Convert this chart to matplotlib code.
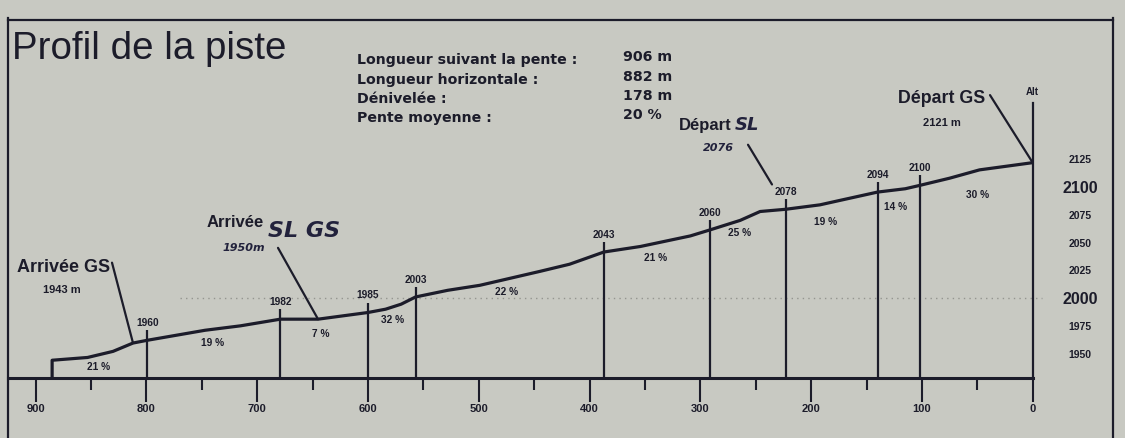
import numpy as np
import matplotlib
matplotlib.use('Agg')
import matplotlib.pyplot as plt
from matplotlib.ticker import MultipleLocator

# ---------------- data ----------------
# distance from the start (m, 0 = Départ GS on the right) and altitude (m)
dist = [885, 853, 830, 812, 799, 747, 715, 679, 645, 600, 584, 570, 557, 528,
        499, 445, 418, 387, 354, 309, 291, 264, 246, 223, 192, 174, 140, 115,
        102, 75, 48, 0]
alt = [1944, 1946.5, 1952, 1959.5, 1962, 1971, 1975, 1981, 1981, 1987, 1990,
       1994.5, 2001, 2007, 2011.5, 2024, 2030.5, 2041.5, 2046.5, 2056, 2061.5,
       2070, 2078, 2080, 2084, 2088, 2095.5, 2098.5, 2101.5, 2108, 2115.5, 2122]
base_alt = 1928

marker_dist = [799, 679, 600, 557, 387, 291, 223, 140, 102]
marker_label = ['1960', '1982', '1985', '2003', '2043', '2060', '2078', '2094', '2100']

slope_label = ['21 %', '19 %', '7 %', '32 %', '22 %', '21 %', '25 %', '19 %', '14 %', '30 %']

xtick_values = [900, 800, 700, 600, 500, 400, 300, 200, 100, 0]
ytick_values = [1950, 1975, 2000, 2025, 2050, 2075, 2100, 2125]

info_labels = ['Longueur suivant la pente :', 'Longueur horizontale :',
               'Dénivelée :', 'Pente moyenne :']
info_values = ['906 m', '882 m', '178 m', '20 %']

# ---------------- layout / style ----------------
W, H = 1125, 438
BG = '#c8c9c2'
INK = '#1c1c2a'
SANS = ['Liberation Sans', 'DejaVu Sans']
WIDE = ['DejaVu Sans']
HAND = ['DejaVu Sans']

PXM = 1.108      # px per metre (horizontal)
PYM = 1.11       # px per metre (vertical)
X0 = 1032.7      # px of distance 0
XL = 8.0         # px of left frame
YB = 378.0       # px of baseline

fig = plt.figure(figsize=(W / 100, H / 100), dpi=100, facecolor=BG)


def P(x, y):
    """reference pixel -> figure fraction (with small photo tilt removed)"""
    yc = y - (x - 540) * 0.0109
    return (x / W, 1 - yc / H)


ax = fig.add_axes([XL / W, 1 - YB / H, (X0 - XL) / W, YB / H])
ax.set_facecolor('none')
ax.set_xlim((X0 - XL) / PXM, 0)
ax.set_ylim(base_alt, base_alt + YB / PYM)
for s in ['left', 'top', 'right']:
    ax.spines[s].set_visible(False)
ax.spines['bottom'].set_linewidth(2.2)
ax.spines['bottom'].set_color(INK)

ax.set_xticks(xtick_values)
ax.set_xticklabels([str(v) for v in xtick_values], fontsize=8, fontweight='bold',
                   family=SANS, color=INK)
ax.xaxis.set_minor_locator(MultipleLocator(50))
ax.tick_params(axis='x', which='major', direction='out', length=17, width=1.5,
               color=INK, pad=2)
ax.tick_params(axis='x', which='minor', direction='out', length=8.5, width=1.5,
               color=INK)

ax.yaxis.set_ticks_position('right')
ax.set_yticks(ytick_values)
ax.set_yticklabels([str(v) for v in ytick_values])
ax.tick_params(axis='y', length=0, pad=34)
for v, t in zip(ytick_values, ax.get_yticklabels()):
    t.set_ha('center')
    t.set_fontweight('bold')
    t.set_family(SANS)
    t.set_color(INK)
    t.set_fontsize(11.5 if v % 100 == 0 else 7.5)

# 2000 m dotted guide
ax.hlines(2000, 770, -8, linestyles=(0, (1, 3)), colors='#94958f', lw=1.0, clip_on=False)

# altitude axis line at distance 0
ax.axvline(0, ymin=0, ymax=1 - 103 / YB, color=INK, lw=1.6, clip_on=False)
ax.text(0, 1 - 92 / YB, 'Alt', transform=ax.get_xaxis_transform(), ha='center',
        va='center', fontsize=7, fontweight='bold', family=SANS, color=INK)

# profile
pd_ = [dist[0]] + dist
pa_ = [base_alt] + alt
ax.plot(pd_, pa_, color=INK, lw=2.3, solid_joinstyle='round', solid_capstyle='round')


def prof(d):
    return float(np.interp(d, dist[::-1], alt[::-1]))


# vertical markers with their altitude labels
tops = [prof(d) + 9 for d in marker_dist]
ax.vlines(marker_dist, base_alt, tops, colors=INK, lw=1.6)
for d, t, lbl in zip(marker_dist, tops, marker_label):
    ax.annotate(lbl, (d, t), xytext=(0, 1.5), textcoords='offset points',
                ha='center', va='bottom', fontsize=7.3, fontweight='bold',
                family=SANS, color=INK)

# slope percentages
slope_px = [(99, 362), (213, 339), (321, 332), (393, 318), (507, 292),
            (656, 259), (740, 235), (826, 225), (896, 211), (978, 200)]
for (x, y), lbl in zip(slope_px, slope_label):
    fig.text(*P(x, y), lbl, ha='center', va='center', fontsize=7.3, fontweight='bold',
             family=SANS, color=INK)

lk = dict(arrowstyle='-', color=INK, lw=1.6, shrinkA=0, shrinkB=0)

# Arrivée GS
ax.annotate('', xy=(dist[3], prof(dist[3])), xytext=P(112, 258),
            textcoords='figure fraction', arrowprops=lk)
fig.text(*P(110, 263), 'Arrivée GS', ha='right', va='center', fontsize=13,
         fontweight='bold', family=SANS, color=INK)
fig.text(*P(62, 285), '1943 m', ha='center', va='center', fontsize=8,
         fontweight='bold', family=SANS, color=INK)

# Arrivée SL GS
ax.annotate('', xy=(dist[8], prof(dist[8])), xytext=P(278, 245),
            textcoords='figure fraction', arrowprops=lk)
fig.text(*P(264, 219), 'Arrivée', ha='right', va='center', fontsize=12,
         fontweight='bold', family=SANS, color=INK)
fig.text(*P(268, 228), 'SL GS', ha='left', va='center', fontsize=16,
         fontweight='bold', style='italic', family=HAND, color='#22223c')
fig.text(*P(244, 245), '1950m', ha='center', va='center', fontsize=8,
         fontweight='bold', style='italic', family=HAND, color='#22223c')

# Départ SL
ax.annotate('', xy=P(772, 187), xycoords='figure fraction', xytext=P(748, 147),
            textcoords='figure fraction', arrowprops=lk)
fig.text(*P(732, 128), 'Départ', ha='right', va='center', fontsize=12,
         fontweight='bold', family=SANS, color=INK)
fig.text(*P(735, 127), 'SL', ha='left', va='center', fontsize=13,
         fontweight='bold', style='italic', family=HAND, color='#22223c')
fig.text(*P(718, 150), '2076', ha='center', va='center', fontsize=8,
         fontweight='bold', style='italic', family=HAND, color='#22223c')

# Départ GS
ax.annotate('', xy=(dist[-1], prof(dist[-1])), xytext=P(990, 100),
            textcoords='figure fraction', arrowprops=lk)
fig.text(*P(942, 103), 'Départ GS', ha='center', va='center', fontsize=12.8,
         fontweight='bold', family=SANS, color=INK)
fig.text(*P(942, 127), '2121 m', ha='center', va='center', fontsize=8,
         fontweight='bold', family=SANS, color=INK)

# title
fig.text(*P(12, 53), 'Profil de la piste', ha='left', va='baseline', fontsize=27.7,
         family=SANS, color=INK)

# info block
for i, (lab, val) in enumerate(zip(info_labels, info_values)):
    y = [58, 78, 97, 116][i]
    fig.text(*P(357, y), lab, ha='left', va='center', fontsize=10.2, fontweight='bold',
             family=WIDE, color=INK)
    fig.text(*P(623, y), val, ha='left', va='center', fontsize=10.2, fontweight='bold',
             family=WIDE, color=INK)

# frame
fig.add_artist(plt.Line2D([XL / W, XL / W], [0, 1 - 18 / H], color=INK, lw=1.6))
fig.add_artist(plt.Line2D([1113 / W, 1113 / W], [0, 1 - 18 / H], color=INK, lw=1.6))
fig.add_artist(plt.Line2D([XL / W, 1113 / W], [1 - 20 / H, 1 - 20 / H], color=INK, lw=1.6))

fig.savefig('out.png', dpi=100, facecolor=BG)
